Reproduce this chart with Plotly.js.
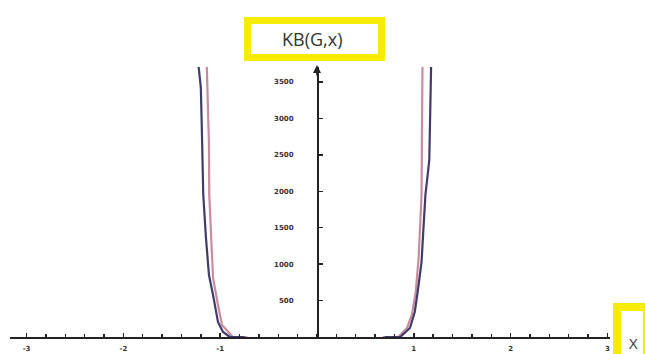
<!DOCTYPE html>
<html>
<head>
<meta charset="utf-8">
<script src="https://cdn.plot.ly/plotly-3.0.1.min.js"></script>
<style>html,body{margin:0;padding:0;background:#fff;}#chart{width:645px;height:354px;}</style>
</head>
<body>
<div id="chart"></div>
<script>
// Values
const xTickVals = [-3, -2, -1, 1, 2, 3];
const xTickText = ["-3", "-2", "-1", "1", "2", "3"];
const yTickVals = [500, 1000, 1500, 2000, 2500, 3000, 3500];
const yTickText = ["500", "1000", "1500", "2000", "2500", "3000", "3500"];

const blueLeftX  = [-1.23, -1.20, -1.19, -1.178, -1.175, -1.147, -1.116, -1.074, -1.023, -0.971, -0.90, -0.75];
const blueLeftY  = [3800, 3419, 2870, 2334, 1950, 1359, 851, 577, 206, 69, 0, 0];
const blueRightX = [0.70, 0.86, 0.96, 1.01, 1.04, 1.08, 1.10, 1.12, 1.14, 1.16, 1.175, 1.18];
const blueRightY = [0, 0, 124, 343, 618, 1030, 1497, 1950, 2183, 2430, 3450, 3800];

const pinkLeftX  = [-1.14, -1.116, -1.113, -1.088, -1.074, -1.023, -0.981, -0.87, -0.72];
const pinkLeftY  = [3800, 2636, 1950, 1167, 810, 439, 165, 0, 0];
const pinkRightX = [0.68, 0.84, 0.93, 0.98, 1.02, 1.05, 1.08, 1.09];
const pinkRightY = [0, 0, 124, 302, 618, 1085, 1950, 3800];

const pinkTrace = {
  x: pinkLeftX.concat([null], pinkRightX),
  y: pinkLeftY.concat([null], pinkRightY),
  mode: 'lines', type: 'scatter', connectgaps: false,
  line: {color: '#c88c9c', width: 2.2}, hoverinfo: 'skip'
};
const blueTrace = {
  x: blueLeftX.concat([null], blueRightX),
  y: blueLeftY.concat([null], blueRightY),
  mode: 'lines', type: 'scatter', connectgaps: false,
  line: {color: '#403c6c', width: 2.2}, hoverinfo: 'skip'
};

// plot area: px 10..610 horizontally, py 67..337 vertically
const L = 10, R = 610, T = 67, B = 337, W = 645, H = 354;
const px2x = p => (p - L) / (R - L);
const py2y = p => (B - p) / (B - T);
const tickFont = {family: 'DejaVu Sans', size: 7, color: '#333', weight: 'bold'};

const layout = {
  width: W, height: H,
  margin: {l: L, r: W - R, t: T, b: H - B, pad: 0},
  paper_bgcolor: '#fff', plot_bgcolor: '#fff',
  showlegend: false,
  xaxis: {
    range: [(L - 317) / 96.8, (R - 317) / 96.8],
    showgrid: false, zeroline: false,
    showline: true, linecolor: '#222', linewidth: 1.6,
    tickmode: 'array', tickvals: xTickVals, ticktext: xTickText,
    ticks: 'inside', ticklen: 4, tickwidth: 1.6, tickcolor: '#222',
    minor: {tickmode: 'linear', tick0: 0, dtick: 0.2, ticks: 'inside', ticklen: 3, tickwidth: 1.4, tickcolor: '#222', showgrid: false},
    tickfont: tickFont, ticklabelstandoff: 4
  },
  yaxis: {
    range: [0, (B - T) * 500 / 36.43],
    anchor: 'free', position: px2x(317), side: 'left',
    showgrid: false, zeroline: false,
    showline: true, linecolor: '#222', linewidth: 1.6,
    tickmode: 'array', tickvals: yTickVals, ticktext: yTickText,
    ticks: 'inside', ticklen: 4, tickwidth: 1.4, tickcolor: '#222',
    tickfont: tickFont, ticklabelstandoff: 22
  },
  shapes: [
    {type: 'rect', xref: 'paper', yref: 'paper',
     x0: px2x(247.5), x1: px2x(381.5), y0: py2y(20.5), y1: py2y(57.5),
     line: {color: '#f7ec00', width: 7}, fillcolor: '#fff', layer: 'above'},
    {type: 'rect', xref: 'paper', yref: 'paper',
     x0: px2x(617), x1: px2x(647), y0: py2y(307), y1: py2y(370),
     line: {color: '#f7ec00', width: 8}, fillcolor: '#fff', layer: 'above'}
  ],
  annotations: [
    {xref: 'paper', yref: 'paper', x: px2x(312), y: py2y(39), text: 'KB(G,x)',
     showarrow: false, font: {family: 'Open Sans', size: 18, color: '#333'},
     xanchor: 'center', yanchor: 'middle'},
    {xref: 'paper', yref: 'paper', x: px2x(633), y: py2y(343), text: 'X',
     showarrow: false, font: {family: 'Open Sans', size: 15, color: '#333'},
     xanchor: 'center', yanchor: 'middle'},
    {xref: 'paper', yref: 'paper', x: px2x(317), y: py2y(65), text: '',
     showarrow: true, arrowhead: 2, arrowsize: 1, arrowwidth: 1.6, arrowcolor: '#222',
     ax: 0, ay: 12}
  ]
};

Plotly.newPlot('chart', [pinkTrace, blueTrace], layout, {displayModeBar: false, staticPlot: true});
</script>
</body>
</html>
